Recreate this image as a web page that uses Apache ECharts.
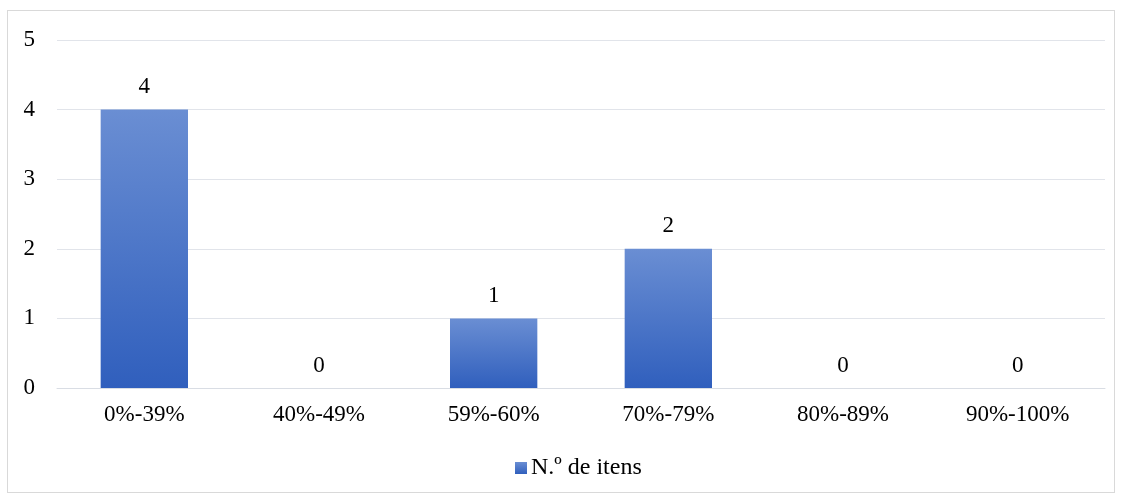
<!DOCTYPE html>
<html>
<head>
<meta charset="utf-8">
<script src="https://cdn.jsdelivr.net/npm/echarts@6/dist/echarts.min.js"></script>
<style>
  html, body { margin: 0; padding: 0; background: #fff; }
  #frame { position: absolute; left: 7px; top: 10px; width: 1108px; height: 483px; border: 1px solid #d9d9d9; box-sizing: border-box; }
  #chart { width: 1121px; height: 497px; }
</style>
</head>
<body>
<div id="frame"></div>
<div id="chart"></div>
<script>
const categories = ["0%-39%", "40%-49%", "59%-60%", "70%-79%", "80%-89%", "90%-100%"];
const itemCounts = [4, 0, 1, 2, 0, 0];
const seriesName = "N.º de itens";

const chart = echarts.init(document.getElementById("chart"));

const FONT = "'Liberation Serif', 'Times New Roman', serif";

chart.setOption({
  animation: false,
  grid: {
    left: 57,
    right: 16,
    top: 40,
    bottom: 109,
    containLabel: false,
  },
  legend: {
    top: 451,
    left: 510,
    itemWidth: 12,
    itemHeight: 12,
    itemGap: 10,
    icon: "rect",
    textStyle: { fontFamily: FONT, fontSize: 24, color: "#000", padding: [0, 0, 0, -1] },
    data: [seriesName],
  },
  xAxis: {
    type: "category",
    data: categories,
    axisTick: { show: false },
    axisLine: { lineStyle: { color: "#d9dde4", width: 1 } },
    axisLabel: { fontFamily: FONT, fontSize: 23, color: "#000", margin: 15 },
  },
  yAxis: {
    type: "value",
    min: 0,
    max: 5,
    interval: 1,
    axisLine: { show: false },
    axisTick: { show: false },
    splitLine: { lineStyle: { color: "#e1e4ea", width: 1 } },
    axisLabel: { fontFamily: FONT, fontSize: 23, color: "#000", margin: 22 },
  },
  series: [
    {
      name: seriesName,
      type: "bar",
      data: itemCounts,
      barWidth: "50%",
      itemStyle: {
        color: new echarts.graphic.LinearGradient(0, 0, 0, 1, [
          { offset: 0, color: "#6a8ed3" },
          { offset: 1, color: "#305fbd" },
        ]),
      },
      label: {
        show: true,
        position: "top",
        distance: 11,
        fontFamily: FONT,
        fontSize: 23,
        color: "#000",
      },
    },
  ],
});
</script>
</body>
</html>
